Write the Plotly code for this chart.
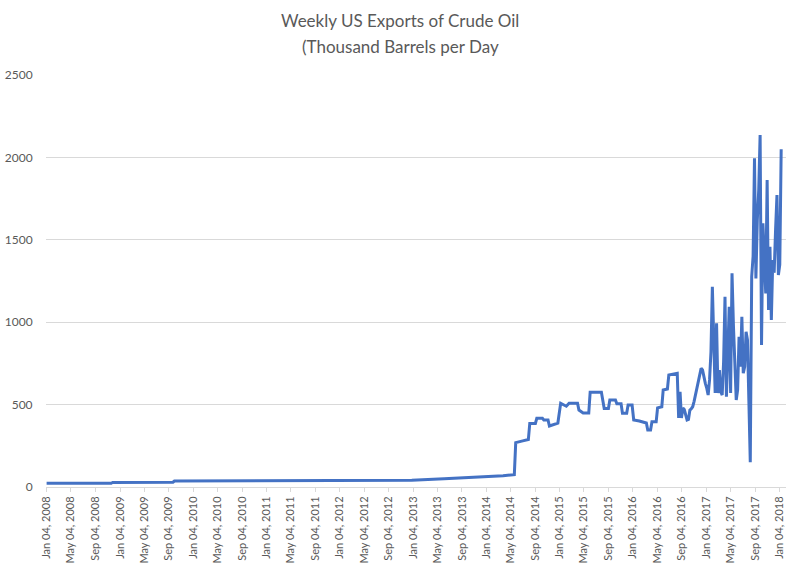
import plotly.graph_objects as go
import pandas as pd

# ---- data ----
dates = [
    "2008-01-04", "2008-05-02", "2008-09-05", "2008-11-21", "2008-11-28",
    "2009-05-01", "2009-09-25", "2009-10-02", "2010-06-04", "2011-03-04",
    "2011-12-02", "2012-06-01", "2012-12-28", "2013-06-07", "2013-11-01",
    "2014-01-03", "2014-03-28", "2014-05-23", "2014-05-30", "2014-07-04",
    "2014-08-01", "2014-08-08", "2014-09-05", "2014-09-12", "2014-10-10",
    "2014-10-17", "2014-11-07", "2014-11-14", "2014-12-26", "2015-01-09",
    "2015-02-06", "2015-02-20", "2015-04-03", "2015-04-10", "2015-05-01",
    "2015-05-29", "2015-06-05", "2015-07-31", "2015-08-14", "2015-09-04",
    "2015-09-11", "2015-10-09", "2015-10-16", "2015-11-06", "2015-11-13",
    "2015-12-04", "2015-12-11", "2015-12-31", "2016-01-08", "2016-02-05",
    "2016-03-11", "2016-03-18", "2016-04-01", "2016-04-08", "2016-04-29",
    "2016-05-06", "2016-05-27", "2016-06-03", "2016-06-24", "2016-07-01",
    "2016-08-12", "2016-08-19", "2016-08-26", "2016-09-02", "2016-09-09",
    "2016-09-16", "2016-09-23", "2016-09-30", "2016-10-07", "2016-10-14",
    "2016-10-21", "2016-10-28", "2016-11-04", "2016-11-11", "2016-11-18",
    "2016-11-25", "2016-12-02", "2016-12-09", "2016-12-16", "2016-12-23",
    "2016-12-30", "2017-01-06", "2017-01-13", "2017-01-20", "2017-01-27",
    "2017-02-03", "2017-02-10", "2017-02-17", "2017-02-24", "2017-03-03",
    "2017-03-10", "2017-03-17", "2017-03-24", "2017-03-31", "2017-04-07",
    "2017-04-14", "2017-04-21", "2017-04-28", "2017-05-05", "2017-05-12",
    "2017-05-19", "2017-05-26", "2017-06-02", "2017-06-09", "2017-06-16",
    "2017-06-23", "2017-06-30", "2017-07-07", "2017-07-14", "2017-07-21",
    "2017-07-28", "2017-08-04", "2017-08-11", "2017-08-18", "2017-08-25",
    "2017-09-01", "2017-09-08", "2017-09-15", "2017-09-22", "2017-09-29",
    "2017-10-06", "2017-10-13", "2017-10-20", "2017-10-27", "2017-11-03",
    "2017-11-10", "2017-11-17", "2017-11-24", "2017-12-01", "2017-12-08",
    "2017-12-15", "2017-12-22", "2017-12-29", "2018-01-05", "2018-01-12",
    "2018-01-19", "2018-01-26", "2018-02-02",
]
exports = [
    22, 22, 23, 22, 28,
    28, 29, 36, 37, 38,
    39, 40, 41, 50, 58,
    62, 68, 75, 269, 280,
    288, 386, 386, 417, 417,
    407, 407, 370, 388, 508,
    490, 508, 508, 467, 449,
    449, 575, 575, 477, 477,
    528, 528, 505, 505, 447,
    447, 497, 497, 407, 400,
    388, 346, 346, 396, 396,
    480, 487, 589, 595, 680,
    690, 419, 578, 419, 480,
    470, 430, 407, 410, 467,
    475, 487, 520, 560, 600,
    640, 700, 720, 710, 660,
    629, 600, 558, 650, 820,
    1215, 791, 570, 993, 570,
    710, 578, 558, 760, 1155,
    548, 813, 1094, 570, 1297,
    980, 710, 528, 589, 912,
    730, 1033, 690, 730, 942,
    892, 520, 150, 1276, 1400,
    1995, 1266, 1620, 1800, 2136,
    862, 1600, 1418, 1175, 1863,
    1074, 1458, 1013, 1377, 1300,
    1560, 1772, 1286, 1350, 2049,
]

# category tick labels every 4 months (Jan 04 / May 04 / Sep 04)
tick_years = list(range(2008, 2018))
tick_months = [1, 5, 9]
tick_dates = [pd.Timestamp(y, m, 4) for y in tick_years for m in tick_months] + [pd.Timestamp(2018, 1, 4)]
tick_text = [d.strftime("%b %d, %Y") for d in tick_dates]
y_ticks = [0, 500, 1000, 1500, 2000, 2500]

title_line1 = "Weekly US Exports of Crude Oil"
title_line2 = "(Thousand Barrels per Day"

TEXT = "#595959"
GRID = "#D9D9D9"
FONT = "Lato, 'Open Sans', sans-serif"

L, R, T, B = 46, 14, 75, 88
W, H = 800, 575
PW = W - L - R

fig = go.Figure()
fig.add_trace(go.Scatter(
    x=pd.to_datetime(dates), y=exports, mode="lines",
    line=dict(color="#4472C4", width=3), hoverinfo="x+y",
))

fig.update_layout(
    width=W, height=H,
    margin=dict(l=L, r=R, t=T, b=B, autoexpand=False),
    paper_bgcolor="white", plot_bgcolor="white",
    showlegend=False,
    font=dict(family=FONT, color=TEXT, size=11),
    xaxis=dict(
        type="date", automargin=False,
        range=["2008-01-01", "2018-02-05"],
        tickmode="array", tickvals=tick_dates, ticktext=tick_text,
        tickangle=-90, tickfont=dict(size=11, color=TEXT),
        showgrid=False, showline=True, linecolor=GRID, linewidth=1,
        ticks="outside", ticklen=4, tickcolor=GRID,
        zeroline=False,
    ),
    yaxis=dict(
        range=[0, 2500], tickvals=y_ticks, automargin=False,
        tickfont=dict(size=12, color=TEXT),
        showgrid=True, gridcolor=GRID, gridwidth=1,
        zeroline=False, showline=False,
        ticks="outside", ticklen=10, tickcolor="rgba(0,0,0,0)",
    ),
    annotations=[
        dict(text=title_line1, xref="paper", yref="paper", x=(400 - L) / PW, y=1,
             xanchor="center", yanchor="middle", yshift=T - 20,
             showarrow=False, font=dict(size=17, color=TEXT, family=FONT)),
        dict(text=title_line2, xref="paper", yref="paper", x=(400 - L) / PW, y=1,
             xanchor="center", yanchor="middle", yshift=T - 46,
             showarrow=False, font=dict(size=17, color=TEXT, family=FONT)),
    ],
)

fig.write_html(
    "out.html",
    config={"displayModeBar": False},
    post_script="document.body.style.margin='0';",
)
